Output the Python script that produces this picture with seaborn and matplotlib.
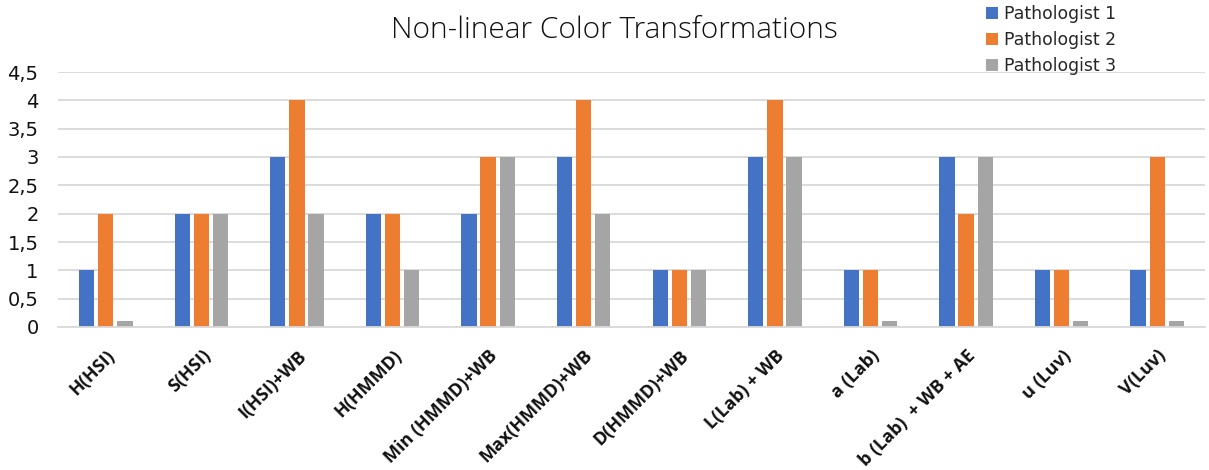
import matplotlib
matplotlib.use("Agg")
import matplotlib.pyplot as plt
import seaborn as sns
import pandas as pd
from matplotlib.ticker import FuncFormatter, MultipleLocator

categories = ["H(HSI)", "S(HSI)", "I(HSI)+WB", "H(HMMD)", "Min (HMMD)+WB",
              "Max(HMMD)+WB", "D(HMMD)+WB", "L(Lab) + WB", "a (Lab)",
              "b (Lab)  + WB + AE", "u (Luv)", "V(Luv)"]
pathologist_1 = [1, 2, 3, 2, 2, 3, 1, 3, 1, 3, 1, 1]
pathologist_2 = [2, 2, 4, 2, 3, 4, 1, 4, 1, 2, 1, 3]
pathologist_3 = [0.1, 2, 2, 1, 3, 2, 1, 3, 0.1, 3, 0.1, 0.1]
series_names = ["Pathologist 1", "Pathologist 2", "Pathologist 3"]
colors = ["#4472C4", "#ED7D31", "#A5A5A5"]

rows = []
for name, vals in zip(series_names, [pathologist_1, pathologist_2, pathologist_3]):
    for cat, v in zip(categories, vals):
        rows.append({"category": cat, "series": name, "value": v})
df = pd.DataFrame(rows)

sns.set_theme(style="white")
plt.rcParams["font.family"] = ["DejaVu Sans"]

fig = plt.figure(figsize=(12.09, 4.70), dpi=100)
ax = fig.add_axes([58 / 1209, 1 - 327 / 470, (1205 - 58) / 1209, (327 - 72) / 470])

sns.barplot(data=df, x="category", y="value", hue="series", order=categories,
            hue_order=series_names, palette=colors, width=0.6, gap=0.2,
            saturation=1, linewidth=0, ax=ax, legend=True)

ax.set_ylim(0, 4.5)
ax.set_xlim(-0.5, len(categories) - 0.5)
ax.yaxis.set_major_locator(MultipleLocator(0.5))
ax.yaxis.set_major_formatter(FuncFormatter(
    lambda v, _: (f"{v:.1f}".rstrip("0").rstrip(".")).replace(".", ",")))
ax.grid(axis="y", color="#D9D9D9", linewidth=1.3)
ax.set_axisbelow(True)
for s in ["top", "right", "left"]:
    ax.spines[s].set_visible(False)
ax.spines["bottom"].set_color("#D9D9D9")
ax.spines["bottom"].set_linewidth(1.3)
ax.set_xlabel("")
ax.set_ylabel("")
ax.tick_params(axis="y", labelsize=14, length=0, pad=14, labelcolor="#111111")
ax.tick_params(axis="x", length=0, pad=14)
for lbl in ax.get_xticklabels():
    lbl.set_rotation(45)
    lbl.set_ha("right")
    lbl.set_rotation_mode("anchor")
    lbl.set_fontfamily("Open Sans")
    lbl.set_fontweight("bold")
    lbl.set_fontsize(13)
    lbl.set_color("#111111")

handles, labels = ax.get_legend_handles_labels()
ax.get_legend().remove()
fig.legend(handles, labels, loc="upper left", bbox_to_anchor=(979 / 1209, 1.003),
           frameon=False, fontsize=12.4, handlelength=0.7, handleheight=0.7,
           handletextpad=0.35, labelspacing=0.45, borderaxespad=0)

fig.text(0.508, 0.936, "Non-linear Color Transformations", ha="center", va="center",
         fontsize=21.5, family="Open Sans", fontweight="light", color="#111111")

fig.savefig("out.png", dpi=100)
